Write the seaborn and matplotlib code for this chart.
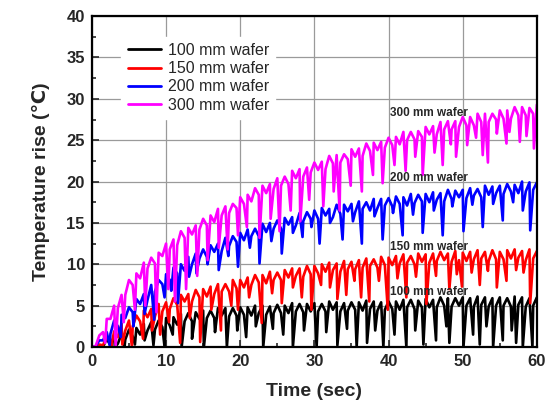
import matplotlib
matplotlib.use('Agg')

import matplotlib.pyplot as plt
from matplotlib.ticker import MultipleLocator
import seaborn as sns
import numpy as np
import pandas as pd

# wafer series, legend order (last one is drawn on top)
LABELS = ['100 mm wafer', '150 mm wafer', '200 mm wafer', '300 mm wafer']
COLORS = ['#000000', '#ff0000', '#0000ff', '#ff00ff']

# temperature rise read every 0.5 s from 0 to 60 s
T100 = [0.0, 0.0, 0.1, 0.0, 1.0, 0.2, 1.3, 0.4, 1.6, 0.9,
        2.1, 1.3, 2.3, 1.5, 2.8, 2.0, 3.0, 2.1, 3.2, 2.4,
        3.5, 2.6, 3.6, 2.7, 4.0, 3.1, 4.1, 3.1, 4.2, 3.4,
        4.4, 3.5, 4.4, 3.5, 4.7, 3.8, 4.7, 3.7, 4.7, 3.8,
        4.8, 3.9, 4.8, 3.8, 5.0, 4.1, 5.0, 3.9, 4.9, 4.1,
        5.1, 4.1, 5.0, 4.1, 5.3, 4.3, 5.2, 4.2, 5.2, 4.3,
        5.3, 4.3, 5.2, 4.3, 5.5, 4.5, 5.4, 4.3, 5.3, 4.4,
        5.4, 4.5, 5.4, 4.4, 5.6, 4.6, 5.5, 4.4, 5.4, 4.5,
        5.5, 4.6, 5.5, 4.5, 5.7, 4.8, 5.7, 4.6, 5.6, 4.8,
        5.8, 4.8, 5.7, 4.8, 6.0, 5.0, 5.9, 4.9, 5.9, 5.0,
        6.0, 5.0, 5.9, 4.9, 6.1, 5.1, 6.0, 4.9, 5.9, 5.0,
        6.0, 5.0, 5.9, 4.9, 6.1, 5.1, 6.0, 4.9, 5.9, 5.0,
        6.0]
T150 = [0.0, 0.0, 0.3, 0.2, 1.3, 0.7, 1.9, 1.2, 2.8, 2.0,
        3.2, 2.5, 3.8, 3.1, 4.4, 3.6, 4.6, 3.7, 5.2, 4.3,
        5.4, 4.6, 5.9, 5.1, 6.3, 5.5, 6.4, 5.5, 6.9, 6.0,
        7.0, 6.1, 7.3, 6.4, 7.6, 6.7, 7.6, 6.7, 8.1, 7.1,
        8.1, 7.2, 8.4, 7.5, 8.7, 7.8, 8.7, 7.7, 9.1, 8.1,
        9.0, 8.1, 9.3, 8.4, 9.5, 8.6, 9.5, 8.5, 9.8, 8.8,
        9.8, 8.9, 10.0, 9.1, 10.2, 9.3, 10.1, 9.1, 10.4, 9.4,
        10.3, 9.4, 10.5, 9.6, 10.7, 9.8, 10.6, 9.6, 10.9, 9.9,
        10.8, 9.9, 11.0, 10.1, 11.2, 10.2, 11.0, 10.0, 11.3, 10.3,
        11.2, 10.2, 11.3, 10.4, 11.5, 10.5, 11.3, 10.3, 11.6, 10.5,
        11.4, 10.4, 11.5, 10.6, 11.7, 10.7, 11.5, 10.4, 11.7, 10.6,
        11.5, 10.6, 11.7, 10.7, 11.8, 10.8, 11.6, 10.5, 11.8, 10.7,
        11.6]
T200 = [0.0, 0.1, 0.8, 0.8, 1.8, 1.6, 3.2, 2.5, 3.9, 3.5,
        4.8, 4.2, 5.8, 5.2, 6.4, 5.7, 7.5, 6.7, 8.1, 7.6,
        8.8, 8.1, 9.6, 8.9, 10.0, 9.2, 10.9, 10.0, 11.3, 10.7,
        11.8, 10.9, 12.3, 11.5, 12.5, 11.6, 13.2, 12.2, 13.4, 12.7,
        13.8, 12.9, 14.2, 13.4, 14.3, 13.4, 14.9, 13.9, 15.0, 14.3,
        15.3, 14.3, 15.6, 14.8, 15.7, 14.7, 16.2, 15.2, 16.3, 15.5,
        16.5, 15.5, 16.8, 15.9, 16.7, 15.7, 17.2, 16.1, 17.2, 16.4,
        17.3, 16.3, 17.6, 16.7, 17.5, 16.5, 17.9, 16.8, 17.9, 17.1,
        18.0, 17.0, 18.2, 17.3, 18.1, 17.1, 18.5, 17.4, 18.4, 17.6,
        18.5, 17.5, 18.7, 17.8, 18.6, 17.6, 19.0, 17.9, 18.9, 18.1,
        19.0, 18.0, 19.2, 18.3, 19.1, 18.1, 19.5, 18.4, 19.4, 18.6,
        19.5, 18.5, 19.7, 18.8, 19.6, 18.6, 20.0, 18.8, 19.9, 19.0,
        19.9]
T300 = [0.0, 0.1, 1.4, 1.8, 3.4, 3.4, 5.0, 4.7, 6.3, 6.3,
        8.1, 7.5, 8.9, 8.3, 10.2, 9.5, 10.8, 10.1, 11.4, 11.0,
        12.5, 11.8, 13.0, 12.3, 14.0, 13.2, 14.4, 13.6, 14.7, 14.2,
        15.5, 14.7, 15.9, 15.1, 16.7, 15.9, 17.0, 16.2, 17.3, 16.8,
        18.1, 17.3, 18.4, 17.6, 19.2, 18.4, 19.5, 18.6, 19.7, 19.1,
        20.4, 19.5, 20.6, 19.7, 21.3, 20.4, 21.5, 20.6, 21.7, 21.1,
        22.3, 21.4, 22.4, 21.5, 23.1, 22.2, 23.2, 22.3, 23.3, 22.7,
        23.9, 23.0, 24.0, 23.1, 24.6, 23.7, 24.7, 23.8, 24.8, 24.1,
        25.3, 24.4, 25.4, 24.5, 26.0, 25.0, 26.0, 25.1, 26.1, 25.4,
        26.6, 25.7, 26.7, 25.7, 27.2, 26.3, 27.3, 26.3, 27.3, 26.6,
        27.8, 26.8, 27.8, 26.8, 28.2, 27.2, 28.2, 27.2, 28.2, 27.5,
        28.6, 27.6, 28.6, 27.6, 29.0, 28.0, 29.0, 28.0, 28.9, 28.2,
        29.3]

# sharp downward spikes: time (s) and lowest reading
DIP100_T = [3.1, 4.4, 5.8, 7.1, 8.3, 9.8, 10.9, 12.1, 13.5, 15.1,
            16.6, 18.2, 19.6, 20.8, 22.1, 23.1, 24.4, 25.8, 27.1, 28.6,
            30.3, 31.6, 33.1, 34.4, 35.7, 37.1, 38.2, 39.3, 40.8, 42.4,
            43.6, 44.7, 46.4, 47.8, 48.2, 50.1, 51.4, 52.3, 53.2, 54.1,
            55.4, 56.6, 57.2, 58.1, 59.4]
DIP100_V = [0.0, 0.0, 0.3, 0.8, 0.2, 0.0, 1.5, 0.0, 1.0, 0.0,
            1.8, 0.0, 2.0, 1.2, 2.5, 0.0, 2.2, 1.5, 0.0, 2.0,
            0.0, 1.8, 0.2, 2.2, 0.0, 0.5, 2.0, 0.0, 1.5, 0.0,
            2.0, 0.3, 0.8, 2.5, 0.5, 0.0, 1.5, 0.3, 2.5, 0.0,
            0.8, 2.0, 0.5, 0.0, 0.0]
DIP150_T = [2.6, 4.1, 5.4, 6.9, 8.1, 9.2, 10.4, 11.9, 13.2, 14.6,
            16.1, 17.4, 18.8, 19.7, 21.2, 22.9, 24.3, 25.6, 27.1, 28.3,
            29.6, 30.9, 32.1, 33.1, 34.3, 35.4, 36.3, 37.4, 38.7, 39.9,
            41.2, 42.4, 43.7, 45.1, 46.4, 48.2, 49.2, 49.9, 51.2, 52.3,
            53.4, 54.6, 55.9, 57.2, 58.2, 59.1]
DIP150_V = [0.0, 0.3, 0.0, 1.0, 2.0, 1.5, 3.0, 0.5, 3.5, 0.6,
            4.5, 2.0, 5.0, 4.5, 6.0, 2.9, 6.5, 5.3, 7.2, 6.0,
            4.5, 7.5, 7.2, 5.8, 6.3, 8.0, 6.0, 5.5, 8.0, 4.5,
            8.3, 6.0, 8.5, 5.2, 8.6, 7.0, 8.8, 7.3, 9.0, 7.5,
            9.2, 7.2, 8.0, 9.3, 9.0, 5.3]
DIP200_T = [2.4, 3.9, 5.6, 7.1, 8.4, 9.8, 10.7, 11.6, 13.1, 14.1,
            15.6, 17.1, 18.4, 19.7, 21.3, 22.6, 24.2, 25.6, 27.1, 28.4,
            29.6, 30.7, 32.1, 33.8, 35.2, 36.4, 38.1, 39.2, 40.6, 41.9,
            43.3, 44.6, 46.1, 47.3, 48.6, 50.1, 51.3, 52.7, 54.1, 55.4,
            56.8, 58.1, 59.1]
DIP200_V = [0.2, 1.2, 2.5, 4.0, 3.3, 6.0, 6.8, 5.3, 8.5, 8.9,
            10.0, 9.3, 11.0, 9.7, 12.0, 10.1, 12.8, 11.3, 13.8, 13.3,
            14.5, 12.5, 15.0, 13.0, 15.2, 12.5, 15.8, 13.0, 16.2, 13.5,
            16.0, 13.8, 16.5, 13.5, 17.0, 14.0, 17.2, 14.5, 17.3, 15.3,
            17.5, 16.5, 14.1]
DIP300_T = [1.8, 3.2, 4.3, 5.8, 7.2, 8.7, 10.3, 11.2, 12.7, 14.2,
            15.6, 17.1, 18.3, 19.7, 20.9, 22.6, 24.1, 25.3, 26.8, 28.1,
            29.3, 31.2, 32.6, 33.4, 34.9, 36.4, 37.9, 39.2, 40.8, 42.3,
            43.6, 44.6, 46.2, 47.3, 48.4, 49.1, 50.6, 51.8, 52.7, 53.4,
            54.6, 55.9, 56.3, 57.7, 58.6, 59.6]
DIP300_V = [0.5, 0.0, 3.0, 4.5, 5.0, 4.2, 7.0, 5.5, 7.0, 8.6,
            10.5, 12.0, 11.8, 13.5, 14.5, 13.2, 15.5, 14.0, 16.5, 15.2,
            17.8, 17.0, 18.8, 16.5, 19.5, 18.8, 20.8, 19.8, 22.0, 21.3,
            23.0, 20.8, 23.5, 22.0, 24.5, 23.0, 24.4, 25.3, 23.2, 22.3,
            25.8, 24.6, 26.0, 24.8, 25.5, 24.0]

TRACES = [T100, T150, T200, T300]
DIP_T = [DIP100_T, DIP150_T, DIP200_T, DIP300_T]
DIP_V = [DIP100_V, DIP150_V, DIP200_V, DIP300_V]

# curve name labels placed inside the plot
NOTE_X = [40.2, 40.2, 40.2, 40.2]
NOTE_Y = [6.6, 12.1, 20.4, 28.3]

SAMPLE_T = np.arange(len(T100)) * 0.5

frames = []
for label, trace, dt, dv in zip(LABELS, TRACES, DIP_T, DIP_V):
    part = pd.DataFrame({'t': np.concatenate([SAMPLE_T, dt]),
                         'v': np.concatenate([trace, dv])})
    part = part.sort_values('t', kind='stable')
    part['wafer'] = label
    frames.append(part)
df = pd.concat(frames, ignore_index=True)

sns.set_style('white')
plt.rcParams['font.family'] = ['Liberation Sans', 'DejaVu Sans']

fig = plt.figure(figsize=(5.47, 4.08), dpi=100)
ax = fig.add_axes([0.168, 0.1495, 0.8135, 0.811])

sns.lineplot(data=df, x='t', y='v', hue='wafer', hue_order=LABELS,
             palette=dict(zip(LABELS, COLORS)), estimator=None, sort=False,
             lw=1.9, ax=ax)

ax.set_xlim(0, 60)
ax.set_ylim(0, 40)
ax.xaxis.set_major_locator(MultipleLocator(10))
ax.xaxis.set_minor_locator(MultipleLocator(5))
ax.yaxis.set_major_locator(MultipleLocator(5))
ax.yaxis.set_minor_locator(MultipleLocator(2.5))
ax.grid(True, which='major', color='#9a9a9a', lw=0.9, zorder=0)
ax.set_axisbelow(True)
ax.tick_params(which='both', direction='in', bottom=True, left=True,
               top=False, right=False, width=1.2)
ax.tick_params(which='major', length=5, labelsize=12, pad=5)
ax.tick_params(which='minor', length=3)
for lab in ax.get_xticklabels() + ax.get_yticklabels():
    lab.set_fontweight('bold')
for sp in ax.spines.values():
    sp.set_color('black')
    sp.set_linewidth(1.6)

ax.set_xlabel('Time (sec)', fontsize=14, fontweight='bold', labelpad=10)
ax.set_ylabel('Temperature rise (\u2103)', fontsize=14, fontweight='bold', labelpad=12)

for label, x, y in zip(LABELS, NOTE_X, NOTE_Y):
    ax.text(x, y, label, fontsize=8.5, fontweight='bold', va='center', ha='left', zorder=5)

old = ax.get_legend()
handles = old.legend_handles
names = [t.get_text() for t in old.texts]
for h in handles:
    h.set_linewidth(2.0)
leg = ax.legend(handles, names, loc='upper left', bbox_to_anchor=(0.066, 0.938),
                borderaxespad=0, borderpad=0.4, fontsize=11.5, handlelength=2.1,
                handletextpad=0.4, labelspacing=0.2, frameon=True,
                facecolor='white', edgecolor='white', framealpha=1, fancybox=False)

fig.savefig('out.png', dpi=100)
plt.close(fig)
